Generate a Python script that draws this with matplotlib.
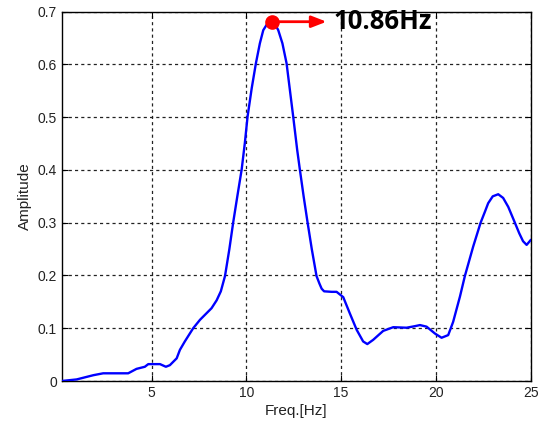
import matplotlib
matplotlib.use("Agg")
import matplotlib.pyplot as plt

# Spectrum samples (frequency in Hz, amplitude)
freq = [0.25, 1.04, 1.92, 2.44, 3.0, 3.76, 4.2, 4.64, 4.82, 5.44, 5.75, 5.96,
        6.32, 6.49, 6.75, 7.19, 7.55, 8.16, 8.43, 8.65, 8.87, 9.1, 9.3, 9.52,
        9.75, 9.92, 10.06, 10.28, 10.5, 10.71, 10.89, 11.1, 11.36, 11.5,
        11.68, 11.9, 12.12, 12.3, 12.47, 12.68, 12.82, 13.02, 13.23, 13.45,
        13.7, 13.85, 13.97, 14.1, 14.5, 14.76, 15.11, 15.46, 15.82, 16.16,
        16.38, 16.69, 17.0, 17.22, 17.75, 18.45, 18.9, 19.16, 19.51, 19.95,
        20.3, 20.65, 20.91, 21.27, 21.53, 21.97, 22.36, 22.59, 22.76, 23.0,
        23.29, 23.55, 23.82, 24.17, 24.4, 24.6, 24.79, 25.0]
amplitude = [0.0, 0.003, 0.011, 0.0146, 0.0146, 0.0146, 0.023, 0.027, 0.032,
             0.032, 0.027, 0.030, 0.043, 0.059, 0.075, 0.100, 0.116, 0.138,
             0.153, 0.170, 0.199, 0.250, 0.300, 0.350, 0.401, 0.452, 0.501,
             0.555, 0.602, 0.640, 0.665, 0.677, 0.681, 0.677, 0.665, 0.640,
             0.602, 0.550, 0.501, 0.438, 0.401, 0.350, 0.300, 0.250, 0.199,
             0.185, 0.175, 0.170, 0.169, 0.169, 0.159, 0.128, 0.097, 0.075,
             0.070, 0.078, 0.088, 0.095, 0.102, 0.101, 0.104, 0.106, 0.103,
             0.090, 0.082, 0.087, 0.112, 0.160, 0.199, 0.255, 0.300, 0.321,
             0.337, 0.350, 0.354, 0.347, 0.330, 0.300, 0.280, 0.265, 0.258,
             0.267]

peak_freq = 11.36
peak_amp = 0.681
peak_label = "10.86Hz"
arrow_end = 14.23

x_ticks = [5, 10, 15, 20, 25]
y_ticks = [0, 0.1, 0.2, 0.3, 0.4, 0.5, 0.6, 0.7]
y_tick_labels = ["0", "0.1", "0.2", "0.3", "0.4", "0.5", "0.6", "0.7"]

plt.rcParams["font.family"] = ["Liberation Sans", "DejaVu Sans"]

fig = plt.figure(figsize=(5.42, 4.28), dpi=100)
ax = fig.add_axes([0.1138, 0.1098, 0.8652, 0.8629])

ax.plot(freq, amplitude, color="#0000ff", lw=1.7, zorder=3,
        solid_joinstyle="round")

ax.annotate("", xy=(arrow_end, peak_amp), xytext=(peak_freq, peak_amp),
            arrowprops=dict(arrowstyle="-|>,head_length=0.9,head_width=0.35",
                            color="#ff0000", lw=2.0, shrinkA=0, shrinkB=0),
            zorder=4)
ax.plot([peak_freq], [peak_amp], "o", color="#ff0000", ms=9.5, zorder=5)
ax.text(arrow_end + 0.35, peak_amp, peak_label, fontsize=18.5,
        fontweight="bold", family=["Open Sans", "DejaVu Sans"],
        va="center", ha="left", color="black", zorder=6)

ax.set_xlim(0.25, 25)
ax.set_ylim(0, 0.7)
ax.set_xticks(x_ticks)
ax.set_yticks(y_ticks)
ax.set_yticklabels(y_tick_labels)
ax.tick_params(direction="in", labelsize=10, length=4, width=0.8,
               top=True, right=True, colors="black", labelcolor="#222222")
ax.grid(True, color="#222222", linestyle=(0, (2.5, 2.5)), lw=0.9)
for s in ax.spines.values():
    s.set_linewidth(1.0)
    s.set_color("black")

ax.set_xlabel("Freq.[Hz]", fontsize=11, color="#222222", labelpad=3)
ax.set_ylabel("Amplitude", fontsize=11, color="#222222", labelpad=4)

fig.savefig("out.png", dpi=100)
